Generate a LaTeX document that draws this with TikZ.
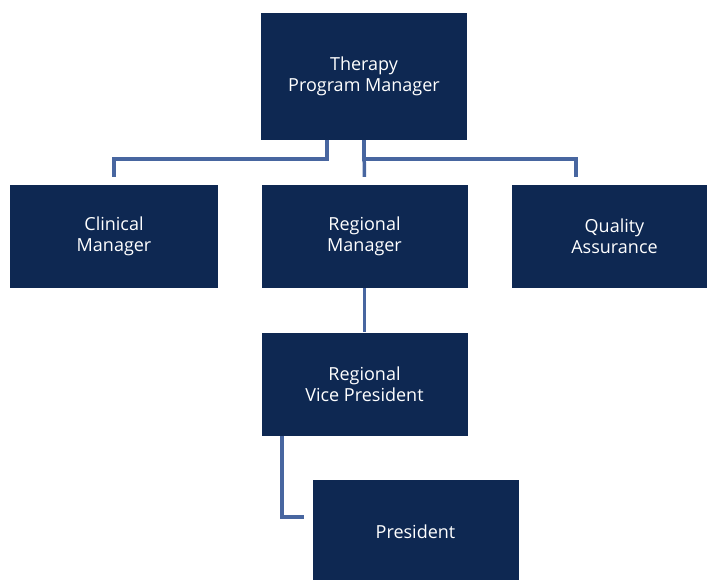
\documentclass[tikz,border=0pt]{standalone}
\usepackage{fontspec}
\setmainfont{Open Sans}
\usetikzlibrary{positioning}
\definecolor{boxnavy}{RGB}{14,40,82}
\definecolor{linkblue}{RGB}{72,102,160}

\begin{document}
\begin{tikzpicture}[x=1pt, y=-1pt, line join=miter,
    role/.style={rectangle, fill=boxnavy, text=white, align=center, inner sep=0pt,
                 minimum width=206pt, minimum height=103pt,
                 font=\fontsize{18}{21}\selectfont},
    link/.style={draw=linkblue, line width=3.5pt}]
    % Rahmen des Bildes
    \path[use as bounding box] (0,0) rectangle (707,580);
    \clip (0,0) rectangle (707,580);

    % Kaestchen
    \node[role, minimum height=127pt] (tpm) at (364,76.5) {Therapy\\Program Manager};
    \node[role, minimum width=208pt] (cm) at (114,236.5) {Clinical\\Manager};
    \node[role] (rm) at (364.5,236.5) {Regional\\Manager};
    \node[role] (qa) at (614.5,236.5) {Quality\\Assurance};
    \node[role] (rvp) at (364.5,384) {Regional\\Vice President};
    \node[role] (pres) at (415.5,531.5) {President};

    % Verbindungen
    \draw[link, shorten >=8pt] ([xshift=-37pt]tpm.south) -- ++(0,19) -| (cm.north);
    \draw[link, shorten >=8pt] (tpm.south) -- (rm.north);
    \draw[link, shorten >=8pt] (tpm.south) -- ++(0,19) -| ([xshift=-38.5pt]qa.north);
    \draw[link] (rm.south) -- (rvp.north);
    \draw[link, shorten >=8pt] ([xshift=-82.5pt]rvp.south) |- ([yshift=14.5pt]pres.west);
\end{tikzpicture}
\end{document}
